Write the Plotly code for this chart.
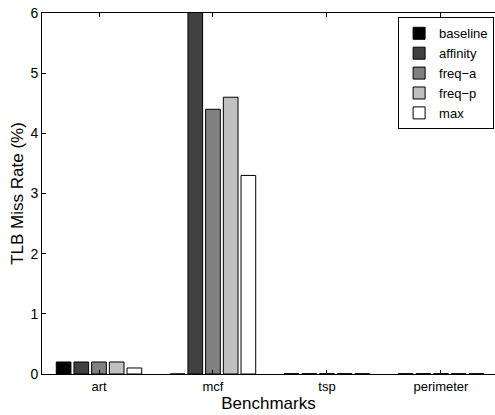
import plotly.graph_objects as go

categories = ["art", "mcf", "tsp", "perimeter"]
series_names = ["baseline", "affinity", "freq\u2212a", "freq\u2212p", "max"]
baseline = [0.2, 0.0, 0.005, 0.005]
affinity = [0.2, 6.8, 0.005, 0.005]
freq_a = [0.2, 4.4, 0.005, 0.005]
freq_p = [0.2, 4.6, 0.005, 0.005]
max_v = [0.1, 3.3, 0.005, 0.005]
colors = ["#000000", "#404040", "#808080", "#c0c0c0", "#ffffff"]
y_ticks = [0, 1, 2, 3, 4, 5, 6]

font = "Liberation Sans, Arial, Helvetica, sans-serif"
fig = go.Figure()
for name, vals, col in zip(series_names, [baseline, affinity, freq_a, freq_p, max_v], colors):
    fig.add_trace(go.Bar(
        x=list(range(1, len(categories) + 1)), y=vals, name=name,
        marker=dict(color=col, line=dict(color="black", width=1)),
    ))

fig.update_layout(
    width=495, height=415,
    margin=dict(l=42, r=0, t=13, b=41),
    paper_bgcolor="white", plot_bgcolor="white",
    barmode="group", bargap=0.224, bargroupgap=0.17,
    font=dict(family=font, size=13, color="black"),
    legend=dict(
        x=0.998, xanchor="right", y=0.988, yanchor="top",
        bordercolor="black", borderwidth=1, bgcolor="white",
        font=dict(size=13), tracegroupgap=0, itemwidth=30,
    ),
    xaxis=dict(
        range=[0.5, 4.474], tickmode="array",
        tickvals=list(range(1, len(categories) + 1)), ticktext=categories,
        showline=True, linecolor="black", linewidth=1, mirror="ticks",
        ticks="inside", ticklen=4, tickcolor="black",
        showgrid=False, zeroline=False,
        title=dict(text="Benchmarks", font=dict(size=17), standoff=0),
        tickfont=dict(size=13),
    ),
    yaxis=dict(
        range=[0, 6], tickvals=y_ticks,
        showline=True, linecolor="black", linewidth=1,
        ticks="inside", ticklen=4, tickcolor="black",
        showgrid=False, zeroline=False,
        title=dict(text="TLB Miss Rate (%)", font=dict(size=17), standoff=2),
        tickfont=dict(size=14),
    ),
)

fig.write_html("out.html", config={"displayModeBar": False},
               post_script="document.body.style.margin='0';document.body.style.overflow='hidden';")
